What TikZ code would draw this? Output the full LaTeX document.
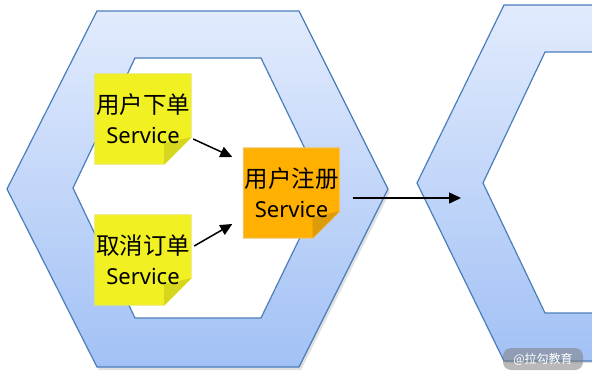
\documentclass[tikz,border=0pt]{standalone}
\usepackage{fontspec}
\setmainfont{Noto Sans}
\newfontfamily\cjk{Noto Sans CJK SC}
\usetikzlibrary{calc,arrows.meta}
\pgfdeclarelayer{bg}
\pgfsetlayers{bg,main}
\definecolor{hexborder}{RGB}{74,126,187}
\definecolor{hextop}{RGB}{226,235,253}
\definecolor{hexbot}{RGB}{162,193,245}
\definecolor{noteyellow}{RGB}{240,240,35}
\definecolor{foldyellow}{RGB}{214,214,30}
\definecolor{edgeyellow}{RGB}{232,232,90}
\definecolor{noteorange}{RGB}{255,176,0}
\definecolor{foldorange}{RGB}{222,156,10}
\definecolor{edgeorange}{RGB}{240,196,110}
\tikzset{
  ring/.style={draw=hexborder, line width=1.2pt, top color=hextop, bottom color=hexbot, line join=miter},
  hole/.style={draw=hexborder, line width=1.2pt, fill=white},
  hexshadow/.style={fill=black, opacity=0.12},
  note/.style={minimum width=96pt, minimum height=90pt, inner sep=0pt, align=center,
    font=\fontsize{22}{30}\selectfont},
  flow/.style={line width=1.5pt, -{Triangle[length=12pt,width=11pt]}},
}
\newcommand\stickyshape[4]{%
  \begin{pgfonlayer}{bg}
    \filldraw[fill=#2, draw=#4, line width=1pt]
      (#1.north west) -- (#1.north east) -- ($(#1.south east)+(0,-27)$)
      -- ($(#1.south east)+(-27,0)$) -- (#1.south west) -- cycle;
    \fill[#3] ($(#1.south east)+(0,-27)$) -- ($(#1.south east)+(-27,0)$)
      -- ($(#1.south east)+(-27,-21)$) -- cycle;
  \end{pgfonlayer}}
\begin{document}
\begin{tikzpicture}[x=1pt,y=-1pt]
\useasboundingbox (0,0) rectangle (592,378);
\clip (0,0) rectangle (592,378);
\begin{pgfonlayer}{bg}
  \fill[white] (0,0) rectangle (592,378);
  % shadows
  \fill[hexshadow] (99,14) -- (301,14) -- (390,192) -- (301,370) -- (99,370) -- (9,192) -- cycle;
  \fill[hexshadow] (506,8) -- (720,8) -- (810,186) -- (720,363) -- (506,363) -- (419,186) -- cycle;
  % left hexagon
  \path[ring] (97,11) -- (299,11) -- (388,189) -- (299,367) -- (97,367) -- (7,189) -- cycle;
  \path[hole] (135,58) -- (261,58) -- (324,188) -- (261,318) -- (135,318) -- (73,188) -- cycle;
  % right hexagon
  \path[ring] (504,5) -- (720,5) -- (808,183) -- (720,361) -- (504,361) -- (417,183) -- cycle;
  \path[hole] (545,52) -- (720,52) -- (780,183) -- (720,313) -- (545,313) -- (483,183) -- cycle;
\end{pgfonlayer}
\coordinate (rhex) at (417,183);

\node[note] (n1) at (143,119) {{\cjk\fontsize{23.5}{30}\selectfont 用户下单}\\Service};
\stickyshape{n1}{noteyellow}{foldyellow}{edgeyellow}
\node[note] (n2) at (143,260) {{\cjk\fontsize{23.5}{30}\selectfont 取消订单}\\Service};
\stickyshape{n2}{noteyellow}{foldyellow}{edgeyellow}
\node[note] (n3) at (291.5,193) {{\cjk\fontsize{23.5}{30}\selectfont 用户注册}\\Service};
\stickyshape{n3}{noteorange}{foldorange}{edgeorange}

\draw[flow] ($(n1.east)+(2,20)$) -- ($(n3.west)+(-11,-36)$);
\draw[flow] ($(n2.east)+(3,-14)$) -- ($(n3.west)+(-11,31)$);
\draw[flow] ($(n3.east)+(13,5)$) -- ($(rhex)+(44,15)$);

\node[fill=gray, fill opacity=0.55, text opacity=1, text=white, rounded corners=8pt,
  minimum width=80pt, minimum height=22pt, inner sep=0pt,
  font=\cjk\fontsize{12}{14}\selectfont] (wm) at (543,359) {@拉勾教育};
\end{tikzpicture}
\end{document}
